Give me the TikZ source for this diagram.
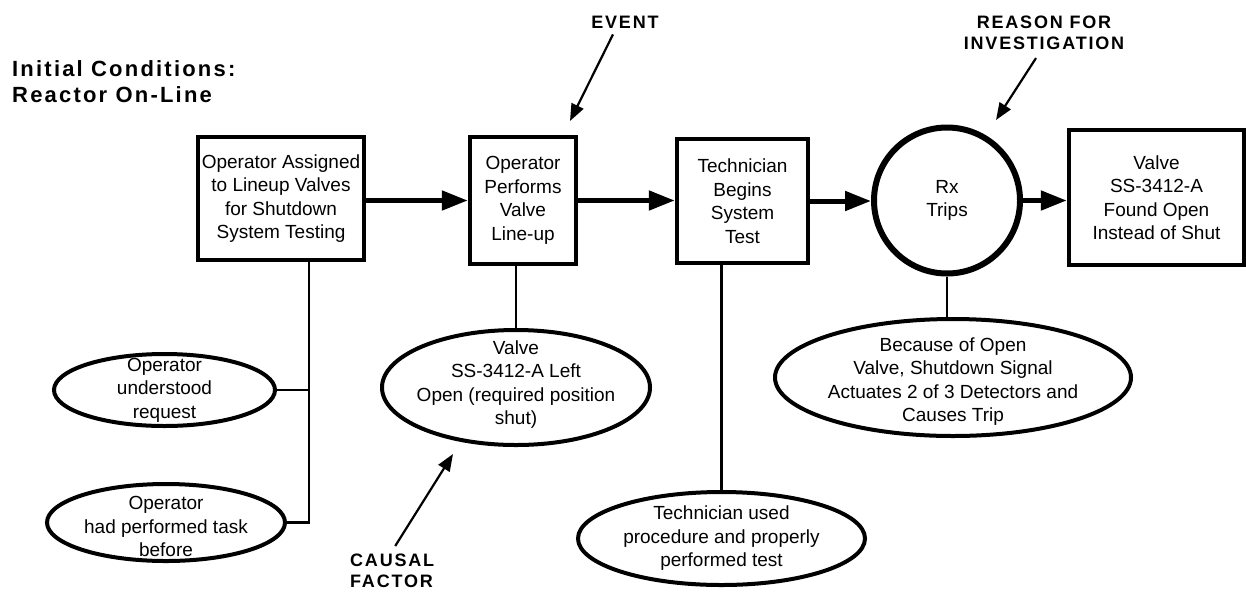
\documentclass[tikz,border=0pt]{standalone}
\usepackage{fontspec}
\setmainfont{Liberation Sans}
\newfontfamily\tagfont[LetterSpace=10]{Liberation Sans}
\usepackage{tikz}
\usetikzlibrary{arrows.meta}
\usetikzlibrary{shapes.geometric}
\tikzset{evt/.style = {draw, line width=4.5pt, rectangle, inner sep=2pt, align=center,
                       font=\fontsize{19}{23.5}\selectfont}}
\tikzset{trip/.style = {draw, line width=6pt, circle, inner sep=0, align=center,
                        font=\fontsize{19}{23.5}\selectfont}}
\tikzset{cond/.style = {draw, line width=4pt, ellipse, inner sep=0}}
\tikzset{note/.style = {align=center, inner sep=0, font=\fontsize{19}{23.5}\selectfont}}
\tikzset{tag/.style = {align=center, inner sep=0, font={\tagfont\bfseries\fontsize{18}{21}\selectfont}}}
\tikzset{flow/.style = {line width=5pt, -{Triangle[length=26pt, width=19pt]}}}
\tikzset{lead/.style = {line width=2.2pt, -{Triangle[length=17pt, width=13pt]}}}
\tikzset{link/.style = {line width=2.2pt}}

\begin{document}
\begin{tikzpicture}[x=1pt, y=-1pt]
    \useasboundingbox (0,0) rectangle (1246,592);

    \node [anchor=north west, align=left, inner sep=0,
           font={\tagfont\bfseries\fontsize{22}{26}\selectfont}] (init) at (12,60) {Initial Conditions:\\Reactor On-Line};

    \node [evt, minimum width=166pt, minimum height=123pt] (assign) at (281,198.5) {Operator Assigned\\to Lineup Valves\\for Shutdown\\System Testing};
    \node [evt, minimum width=106pt, minimum height=127pt] (lineup) at (523,200.5) {Operator\\Performs\\Valve\\Line-up};
    \node [evt, minimum width=131pt, minimum height=124pt] (begin) at (742.5,201) {Technician\\Begins\\System\\Test};
    \node [trip, minimum size=146pt] (rx) at (947,200.5) {Rx\\Trips};
    \node [evt, minimum width=175pt, minimum height=135pt] (found) at (1156.5,197.5) {Valve\\SS-3412-A\\Found Open\\Instead of Shut};

    \draw [flow] (assign.east |- lineup.west) -- (lineup.west);
    \draw [flow] (lineup.east) -- (lineup.east -| begin.west);
    \draw [flow] (begin.east) -- (begin.east -| rx.west);
    \draw [flow] (rx.east) -- (rx.east -| found.west);

    \node [cond, minimum width=221pt, minimum height=72pt,
           label={[note]center:Operator\\understood\\request}] (ask) at (164.5,390) {};
    \node [cond, minimum width=238pt, minimum height=77pt,
           label={[note, yshift=-4pt]center:Operator\\had performed task\\before}] (prior) at (166,522.5) {};
    \node [cond, minimum width=268pt, minimum height=115pt,
           label={[note, yshift=3pt]center:Valve\\SS-3412-A Left\\Open (required position\\shut)}] (left) at (516,387.5) {};
    \node [cond, minimum width=287pt, minimum height=93pt,
           label={[note]center:Technician used\\procedure and properly\\performed test}] (proc) at (721.5,538.5) {};
    \node [cond, minimum width=356pt, minimum height=117pt,
           label={[note, yshift=-4pt]center:{Because of Open\\Valve, Shutdown Signal\\Actuates 2 of 3 Detectors and\\Causes Trip}}] (why) at (953,377.5) {};

    \coordinate (knee) at (309,522.5);
    \draw [link] (assign.south -| knee) -- (knee) -- (prior.east);
    \draw [link] (ask.east) -- (ask.east -| knee);
    \draw [link] (lineup.south -| left.north) -- (left.north);
    \draw [link] (begin.south -| proc.north) -- (proc.north);
    \draw [link] (rx.south) -- (rx.south |- why.north);

    \node [tag] (event) at (625,22) {EVENT};
    \node [tag] (reason) at (1044,33) {REASON FOR\\INVESTIGATION};
    \node [tag, align=left, anchor=north west] (causal) at (350,554) {CAUSAL\\FACTOR};

    \coordinate (eventtip) at (570,121);
    \coordinate (reasontip) at (996,120);
    \coordinate (causaltip) at (453,454);
    \draw [lead] ([xshift=-12pt, yshift=-6pt]event.south) -- (eventtip);
    \draw [lead] ([xshift=-8pt, yshift=-8pt]reason.south) -- (reasontip);
    \draw [lead] ([xshift=3pt, yshift=8pt]causal.north) -- (causaltip);
  \end{tikzpicture}
\end{document}
